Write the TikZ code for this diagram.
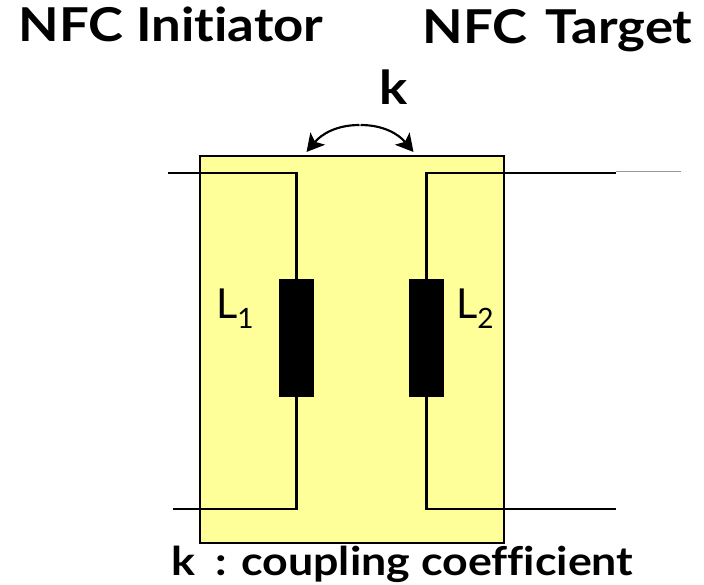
\documentclass[tikz,border=0pt]{standalone}
\usepackage{xcolor}
\usepackage{fontspec}
\setmainfont[Ligatures=NoCommon]{Lato}
\newfontfamily\headfont[FakeStretch=1.13,Ligatures=NoCommon]{Lato}
\usepackage{tikz}
\usetikzlibrary{arrows.meta}
\definecolor{coreyellow}{HTML}{FFFF99}

\begin{document}
\begin{tikzpicture}[x=0.75pt,y=-0.75pt,>={Stealth[length=4.6mm,width=5mm,inset=1.1mm]}]
  \useasboundingbox (0,0) rectangle (704,585);
  \tikzset{
    wire/.style={draw=black,line width=1.6pt,line join=miter},
    coil/.style={draw=none,fill=black,inner sep=0pt,minimum width=26.5pt,minimum height=88pt},
    heading/.style={anchor=base,font=\headfont\bfseries\fontsize{35}{38}\selectfont,inner sep=0pt},
    coillabel/.style={anchor=base west,font=\fontsize{31}{34}\selectfont,inner sep=0pt}
  }
  \node[draw=black,fill=coreyellow,line width=1.6pt,inner sep=0pt,minimum width=228pt,minimum height=290pt] (box) at (352,349.75) {};
  \node[coil] (coil1) at (296.5,338) {};
  \node[coil] (coil2) at (426.5,338) {};
  \coordinate (a0) at (168,173);
  \coordinate (a1) at (296.5,173);
  \coordinate (a2) at (173,509);
  \coordinate (a3) at (296.5,509);
  \coordinate (b0) at (616,173);
  \coordinate (b1) at (426.5,173);
  \coordinate (b2) at (616,509);
  \coordinate (b3) at (426.5,509);
  \coordinate (b4) at (616,171.5);
  \coordinate (b5) at (681,171.5);
  \coordinate (topa) at (359.5,125);
  \coordinate (topb) at (360.5,125);
  \coordinate (tipa) at (306.5,152);
  \coordinate (tipb) at (413.5,152);
  \draw[wire] (a0) -- (a1) -- (coil1);
  \draw[wire] (a2) -- (a3) -- (coil1);
  \draw[wire] (b0) -- (b1) -- (coil2);
  \draw[wire] (b2) -- (b3) -- (coil2);
  \draw[gray!80,line width=0.75pt] (b4) -- (b5);
  \draw[->,line width=1.6pt] (topa) to[out=180,in=50] (tipa);
  \draw[->,line width=1.6pt] (topb) to[out=0,in=130] (tipb);
  \node[heading] (initiator) at (171,42) {NFC Initiator};
  \node[heading] (target) at (557.5,44) {NFC\hspace{4pt} Target};
  \node[heading] (k) at (394,104) {k};
  \node[coillabel] (l1) at (216,318) {L\raisebox{-8pt}{\fontsize{21}{24}\selectfont 1}};
  \node[coillabel] (l2) at (456,318) {L\raisebox{-8pt}{\fontsize{21}{24}\selectfont 2}};
  \node[heading,font=\headfont\bfseries\fontsize{29.7}{33}\selectfont] (caption) at (402.5,575) {k\enspace: coupling coefficient};
\end{tikzpicture}
\end{document}
